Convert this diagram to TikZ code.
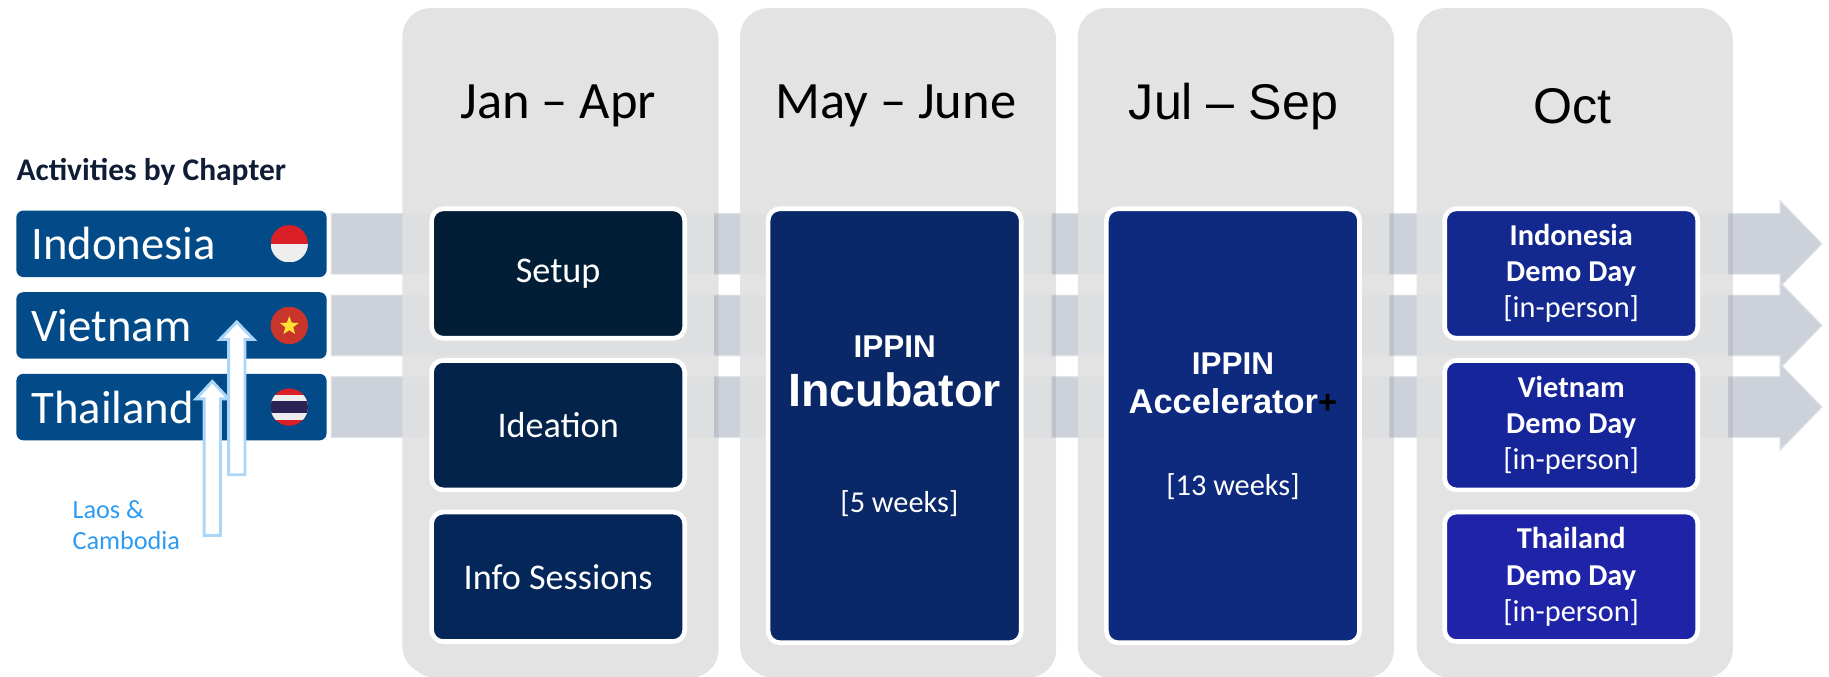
\documentclass[tikz,border=0pt]{standalone}
\usepackage{fontspec}
\setmainfont{Carlito}
\newfontfamily\arialfont{Liberation Sans}
\usepackage{tikz}
\usetikzlibrary{shapes,shadows,positioning}

\definecolor{colgray}{HTML}{E3E3E3}
\definecolor{bandgray}{HTML}{CDD2DA}
\definecolor{bandedge}{HTML}{E3E6EA}
\definecolor{chapblue}{HTML}{034A88}
\definecolor{headnavy}{HTML}{0F1D36}
\definecolor{laosblue}{HTML}{2E9BF2}
\definecolor{laosline}{HTML}{ABD6F8}
\definecolor{setupc}{HTML}{021E37}
\definecolor{ideac}{HTML}{03234A}
\definecolor{infoc}{HTML}{042658}
\definecolor{incc}{HTML}{0A2868}
\definecolor{accc}{HTML}{0E2A7E}
\definecolor{idoc}{HTML}{13298F}
\definecolor{vnc}{HTML}{17259B}
\definecolor{thc}{HTML}{1E23A8}
\definecolor{flagred}{HTML}{DA1F26}
\definecolor{flagwhite}{HTML}{EEEEEE}
\definecolor{vnred}{HTML}{C9352B}
\definecolor{vnstar}{HTML}{FFE135}
\definecolor{thblue}{HTML}{2B2356}

\newcommand{\fsz}[2]{\fontsize{#1pt}{#2pt}\selectfont}

\begin{document}
\begin{tikzpicture}[x=1pt, y=-1pt, every node/.style={inner sep=0pt, align=center},
  colbox/.style={fill=colgray, rounded corners=24pt, minimum width=267pt, minimum height=571pt,
    drop shadow={shadow xshift=4pt, shadow yshift=-3pt, opacity=.22}},
  hdr/.style={font=\fsz{45}{54}},
  hdra/.style={font=\arialfont\fsz{43}{52}},
  chap/.style={fill=chapblue, rounded corners=6pt, text width=240pt, inner xsep=13pt,
    minimum height=57pt, align=left, text=white, font=\fsz{40}{48}},
  inbox/.style={draw=white, line width=4pt, rounded corners=10pt, minimum width=217pt, text=white},
  sbox/.style={inbox, minimum height=111pt, font=\fsz{31}{37}},
  dbox/.style={sbox, font=\fsz{26}{31}},
  lbox/.style={inbox, minimum height=372pt},
  band/.style={fill=bandgray, draw=bandedge, line width=1pt},
  blk/.style={draw=laosline, fill=white, line width=2.5pt, line join=miter}]
  \useasboundingbox (0,0) rectangle (1568,580);

  \foreach \y in {209,279,349}
    \path[band] (284,\y-26) -- (1526,\y-26) -- (1526,\y-37) -- (1562,\y) -- (1526,\y+37) -- (1526,\y+26) -- (284,\y+26) -- cycle;

  \foreach \x/\n in {478.5/c1, 768/c2, 1057.5/c3, 1348/c4}
    \node[colbox] (\n) at (\x,292.5) {};

  \foreach \y in {209,279,349}
    \fill[bandgray, fill opacity=.2] (284,\y-26) -- (1526,\y-26) -- (1526,\y-37) -- (1562,\y) -- (1526,\y+37) -- (1526,\y+26) -- (284,\y+26) -- cycle;

  \node[hdr] (h1) at (478.5,91) {Jan \textendash{} Apr};
  \node[hdr] (h2) at (768,91) {May \textendash{} June};
  \node[hdra] (h3) at (1057.5,91) {Jul \textendash{} Sep};
  \node[hdra] (h4) at (1348,91) {Oct};

  \node[sbox, fill=setupc] (setup) at (478.5,234.5) {Setup};
  \node[sbox, fill=ideac, below=15pt of setup] (idea) {Ideation};
  \node[sbox, fill=infoc, below=15pt of idea] (info) {Info Sessions};

  \node[lbox, fill=incc] (incub) at (767,365) {};
  \node[text=white, font=\arialfont\bfseries\fsz{27}{30}] (inc1) at (767,297) {IPPIN};
  \node[text=white, font=\arialfont\bfseries\fsz{40}{46}] (inc2) at (767,334) {Incubator};
  \node[text=white, font=\fsz{26}{30}] (inc3) at (771,432) {[5 weeks]};

  \node[lbox, fill=accc] (accel) at (1057,365) {};
  \node[text=white, font=\arialfont\bfseries\fsz{27}{30}] (acc1) at (1057,312) {IPPIN};
  \node[text=white, font=\arialfont\bfseries\fsz{29.5}{34}] (acc2) at (1057,344) {Accelerator{\color{black}\fsz{28}{30}+}};
  \node[text=white, font=\fsz{26}{30}] (acc3) at (1057,417) {[13 weeks]};

  \node[dbox, fill=idoc] (idod) at (1347,234.5) {\textbf{Indonesia}\\\textbf{Demo Day}\\{}[in-person]};
  \node[dbox, fill=vnc, below=15pt of idod] (vnd) {\textbf{Vietnam}\\\textbf{Demo Day}\\{}[in-person]};
  \node[dbox, fill=thc, below=15pt of vnd] (thd) {\textbf{Thailand}\\\textbf{Demo Day}\\{}[in-person]};

  \node[anchor=west, text=headnavy, font=\bfseries\fsz{27}{32}] (act) at (14,147) {Activities by Chapter};
  \node[chap] (indo) at (147,209) {Indonesia};
  \node[chap] (viet) at (147,279) {Vietnam};
  \node[chap] (thai) at (147,349) {Thailand};

  \begin{scope}
    \clip (248,209) circle (16pt);
    \fill[flagred] (232,193) rectangle (264,209);
    \fill[flagwhite] (232,209) rectangle (264,225);
  \end{scope}
  \fill[vnred] (248,279) circle (16pt);
  \node[star, star points=5, star point ratio=2.4, fill=vnstar, minimum size=17pt] (vnflag) at (248,279.5) {};
  \begin{scope}
    \clip (248,349) circle (16pt);
    \fill[flagred] (232,333) rectangle (264,365);
    \fill[flagwhite] (232,338.3) rectangle (264,359.7);
    \fill[thblue] (232,343.7) rectangle (264,354.3);
  \end{scope}

  \draw[blk] (175,459) -- (175,342) -- (168,342) -- (182,327) -- (196,342) -- (189,342) -- (189,459) -- cycle;
  \draw[blk] (196,407) -- (196,291) -- (188.5,291) -- (203,276) -- (217.5,291) -- (210,291) -- (210,407) -- cycle;
  \node[anchor=west, align=left, text=laosblue, font=\fsz{22.5}{27}] (laos) at (62,450) {Laos \&\\Cambodia};
\end{tikzpicture}
\end{document}
